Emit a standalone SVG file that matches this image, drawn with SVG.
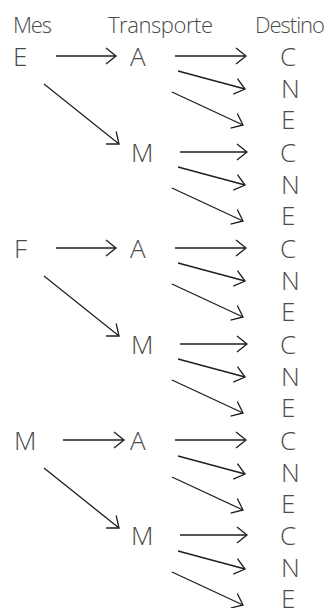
<svg xmlns="http://www.w3.org/2000/svg" width="332" height="608" viewBox="0 0 332 608">
<defs>
<marker id="ah" markerUnits="userSpaceOnUse" markerWidth="24" markerHeight="24" refX="0" refY="0" viewBox="-12 -12 24 24" orient="auto" overflow="visible">
<path d="M-10,-8 L0,0 L-10,8" fill="none" stroke="#1e1e1e" stroke-width="1.3"/>
</marker>
<style>
text{font-family:"Open Sans","Liberation Sans",sans-serif;font-weight:300;fill:#4a4a4a}
.h{font-size:22px}
.n{font-size:26px}
.c path{fill:none;stroke:#1e1e1e;stroke-width:1.3;marker-end:url(#ah)}
</style>
</defs>
<rect width="332" height="608" fill="#ffffff"/>
<g id="headers">
<text class="h" x="13" y="33" textLength="39">Mes</text>
<text class="h" x="108" y="33" textLength="105">Transporte</text>
<text class="h" x="255" y="33" textLength="70">Destino</text>
</g>
<g id="mes">
<g id="mes-E"><text class="n" x="13" y="66">E</text></g>
<g id="mes-F"><text class="n" x="14" y="258">F</text></g>
<g id="mes-M"><text class="n" x="14" y="450">M</text></g>
</g>
<g id="transporte">
<g id="t-EA"><text class="n" x="130" y="66">A</text></g>
<g id="t-EM"><text class="n" x="131" y="162">M</text></g>
<g id="t-FA"><text class="n" x="130" y="258">A</text></g>
<g id="t-FM"><text class="n" x="131" y="354">M</text></g>
<g id="t-MA"><text class="n" x="130" y="450">A</text></g>
<g id="t-MM"><text class="n" x="131" y="545">M</text></g>
</g>
<g id="destino">
<g id="d-EAC"><text class="n" x="280" y="66">C</text></g>
<g id="d-EAN"><text class="n" x="281" y="98">N</text></g>
<g id="d-EAE"><text class="n" x="281" y="129">E</text></g>
<g id="d-EMC"><text class="n" x="280" y="162">C</text></g>
<g id="d-EMN"><text class="n" x="281" y="194">N</text></g>
<g id="d-EME"><text class="n" x="281" y="225">E</text></g>
<g id="d-FAC"><text class="n" x="280" y="258">C</text></g>
<g id="d-FAN"><text class="n" x="281" y="290">N</text></g>
<g id="d-FAE"><text class="n" x="281" y="321">E</text></g>
<g id="d-FMC"><text class="n" x="280" y="354">C</text></g>
<g id="d-FMN"><text class="n" x="281" y="386">N</text></g>
<g id="d-FME"><text class="n" x="281" y="417">E</text></g>
<g id="d-MAC"><text class="n" x="280" y="450">C</text></g>
<g id="d-MAN"><text class="n" x="281" y="482">N</text></g>
<g id="d-MAE"><text class="n" x="281" y="513">E</text></g>
<g id="d-MMC"><text class="n" x="280" y="545">C</text></g>
<g id="d-MMN"><text class="n" x="281" y="577">N</text></g>
<g id="d-MME"><text class="n" x="281" y="608">E</text></g>
</g>
<g id="connectors" class="c">
<path d="M56,56 H116"/>
<path d="M44,84 L119,144"/>
<path d="M56,248 H116"/>
<path d="M44,276 L119,336"/>
<path d="M63,440 H124"/>
<path d="M44,468 L119,528"/>
<path d="M175,56 H246"/>
<path d="M178,71 L245,89"/>
<path d="M172,92 L243,125"/>
<path d="M180,152 H247"/>
<path d="M178,167 L245,185"/>
<path d="M172,188 L243,221"/>
<path d="M175,248 H246"/>
<path d="M178,263 L245,281"/>
<path d="M172,284 L243,317"/>
<path d="M180,344 H247"/>
<path d="M178,359 L245,377"/>
<path d="M172,380 L243,413"/>
<path d="M175,440 H246"/>
<path d="M178,456 L245,474"/>
<path d="M172,477 L243,510"/>
<path d="M180,535 H247"/>
<path d="M178,551 L245,569"/>
<path d="M172,572 L243,605"/>
</g>
</svg>
